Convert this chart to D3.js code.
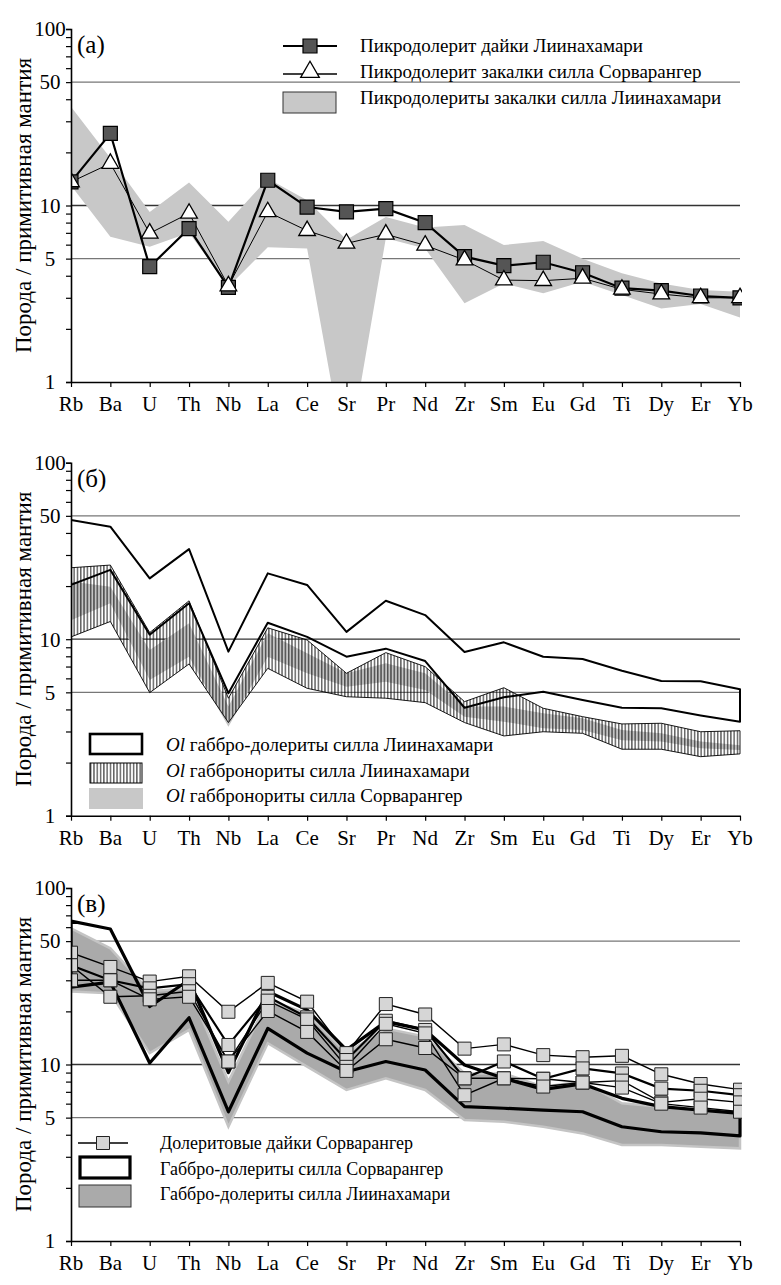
<!DOCTYPE html>
<html><head><meta charset="utf-8">
<script src="https://cdn.jsdelivr.net/npm/d3@7"></script>
<style>body{margin:0;background:#fff}svg{display:block}svg text{font-family:"Liberation Serif",serif !important}</style>
</head><body>
<div id="wrap" style="position:relative;width:781px;height:1285px"></div>
<script>
const elements = ["Rb","Ba","U","Th","Nb","La","Ce","Sr","Pr","Nd","Zr","Sm","Eu","Gd","Ti","Dy","Er","Yb"];
const yMajor = [1,5,10,50,100];
const yMinor = [2,3,4,6,7,8,9,20,30,40,60,70,80,90];
const yTitle = "Порода / примитивная мантия";

// Panel (а)
const dykeLiin  = [13.6,25.6,4.5,7.4,3.44,13.9,9.8,9.2,9.6,8.0,5.13,4.56,4.77,4.16,3.40,3.29,3.07,3.0];
const chillSorv = [13.6,17.3,6.96,9.03,3.5,9.2,7.2,6.1,6.87,5.95,4.91,3.78,3.75,3.87,3.35,3.15,3.0,3.0];
const chillLiinMax = [36.3,18.6,9.2,13.5,8.1,14.2,10.7,6.4,8.6,7.5,7.75,5.97,6.3,5.0,4.13,3.62,3.32,3.25];
const chillLiinMin = [13.0,6.66,5.84,7.0,3.47,5.8,5.7,0.33,6.52,5.7,2.79,3.62,3.18,3.7,3.11,2.61,2.77,2.32];
const legendA = ["Пикродолерит дайки Лиинахамари","Пикродолерит закалки силла Сорварангер","Пикродолериты закалки силла Лиинахамари"];

// Panel (б)
const gdLiinMax = [47.3,43.4,22.1,32.4,8.5,23.6,20.3,11.0,16.5,13.7,8.46,9.6,7.96,7.72,6.63,5.8,5.78,5.2];
const gdLiinMin = [20.3,24.7,10.6,16.0,4.94,12.4,10.3,7.96,8.84,7.52,4.09,4.69,5.04,4.52,4.09,4.06,3.70,3.41];
const gnLiinMax = [25.4,26.3,10.9,16.5,4.63,11.6,9.9,6.41,8.39,6.99,4.43,5.31,4.06,3.64,3.31,3.34,2.99,3.03];
const gnLiinMin = [10.3,12.6,4.98,7.24,3.37,6.84,5.27,4.72,4.63,4.37,3.37,2.83,2.99,2.93,2.38,2.38,2.16,2.24];
const gnSorvMax = [21.2,19.8,8.69,12.3,4.15,10.8,8.32,6.41,7.3,6.41,4.15,4.15,3.8,3.56,3.06,2.93,2.63,2.51];
const gnSorvMin = [12.8,16.0,5.87,7.96,3.19,7.96,6.41,5.38,5.74,5.15,3.64,3.41,3.13,3.06,2.68,2.63,2.41,2.36];
const legendB = [" габбро-долериты силла Лиинахамари"," габбронориты силла Лиинахамари"," габбронориты силла Сорварангер"];

// Panel (в)
const gdLiinCMax = [59.1,45.5,26,27,8.0,23.2,19.5,11.6,16.0,14.4,8.9,8.9,7.49,8.0,6.03,5.77,5.52,5.4];
const gdLiinCMin = [25.9,25.3,11.6,15.7,4.44,13.2,9.72,7.17,8.35,7.17,4.85,4.74,4.44,4.07,3.5,3.5,3.42,3.35];
const gdSorvMax = [65.0,58.6,21.3,30.1,9.0,25.9,20.4,12.1,17.5,15.7,9.94,8.35,7.23,7.75,6.43,5.77,5.52,5.29];
const gdSorvMin = [27.4,29.3,10.2,18.4,5.4,16.0,11.6,9.1,10.4,9.31,5.77,5.65,5.52,5.4,4.44,4.16,4.1,3.94];
const dykeSorv1 = [43,35.7,29.5,31.6,19.9,29.0,22.7,11.6,22.0,19.2,12.3,13.0,11.3,11.0,11.2,8.8,7.75,7.2];
const dykeSorv2 = [36.5,30.0,27.0,28.5,12.9,24.2,18.5,10.6,17.7,15.7,8.35,10.4,8.3,9.5,8.9,7.3,7.1,6.7];
const dykeSorv3 = [36.5,24.2,24.5,26.0,10.4,23.0,18.0,9.7,17.0,15.0,6.7,8.35,8.3,7.9,8.1,6.1,6.4,6.1];
const dykeSorv4 = [30.0,30.0,23.4,24.2,10.4,20.1,15.3,9.2,13.9,12.4,8.35,8.35,7.5,7.9,7.4,6.0,5.7,5.4];
const legendC = ["Долеритовые дайки Сорварангер","Габбро-долериты силла Сорварангер","Габбро-долериты силла Лиинахамари"];

const FONT = "Liberation Serif";
const wrap = d3.select("#wrap");
const x = d3.scalePoint().domain(elements).range([71,740]);

function txt(sel){ return sel.attr("font-family",FONT).attr("fill","#000"); }

// each panel in its own svg, stacked; panelTop is offset in page coordinates
function makePanel(id, panelTop, panelH, top, bottom, label){
  const svg = wrap.append("svg").attr("width",781).attr("height",panelH)
    .style("position","absolute").style("left","0px").style("top",panelTop+"px")
    .attr("font-family",FONT);
  const root = svg.append("g").attr("transform",`translate(0,${-panelTop})`);
  const defs = svg.append("defs");
  const hatch = defs.append("pattern").attr("id","hatch"+id).attr("patternUnits","userSpaceOnUse")
    .attr("width",3.3).attr("height",10);
  hatch.append("line").attr("x1",1.6).attr("x2",1.6).attr("y1",0).attr("y2",10).attr("stroke","#000").attr("stroke-width",0.9);
  const y = d3.scaleLog().domain([1,100]).range([bottom, top]);
  defs.append("clipPath").attr("id","clip"+id).append("rect")
    .attr("x",71).attr("y",top).attr("width",740-71+2).attr("height",bottom-top);
  root.selectAll(".grid").data([50,10,5]).join("line")
    .attr("x1",71).attr("x2",740).attr("y1",d=>y(d)).attr("y2",d=>y(d))
    .attr("stroke",d=>d===10?"#333":"#777").attr("stroke-width",1.3);
  const plot = root.append("g").attr("clip-path","url(#clip"+id+")");
  const axes = root.append("g");
  const ya = d3.axisLeft(y).tickValues(yMajor.concat(yMinor)).tickSize(5).tickFormat("");
  axes.append("g").attr("transform","translate(71,0)").call(ya)
    .call(s=>{s.attr("font-family",FONT);
              s.select(".domain").attr("stroke","#000").attr("stroke-width",1.6);
              s.selectAll(".tick line").attr("stroke","#000").attr("stroke-width",1.2);});
  txt(axes.selectAll(".ylab").data(yMajor).join("text")
    .attr("x",50).attr("y",d=>y(d)).attr("dy","0.35em").attr("text-anchor","middle")
    .attr("font-size",21).text(d=>d));
  const xa = d3.axisBottom(x).tickSize(5).tickSizeOuter(0).tickFormat("");
  axes.append("g").attr("transform",`translate(0,${bottom})`).call(xa)
    .call(s=>{s.attr("font-family",FONT);
              s.select(".domain").attr("stroke","#000").attr("stroke-width",1.6);
              s.selectAll(".tick line").attr("stroke","#000").attr("stroke-width",1.2);});
  txt(axes.selectAll(".xlab").data(elements).join("text")
    .attr("x",d=>x(d)).attr("y",bottom+29).attr("text-anchor","middle")
    .attr("font-size",21).text(d=>d));
  txt(axes.append("text").attr("transform",`translate(31,${(top+bottom)/2}) rotate(-90)`)
    .attr("text-anchor","middle").attr("font-size",23).text(yTitle));
  txt(axes.append("text").attr("x",77).attr("y",top+24).attr("font-size",25).text(label));
  return {y, plot, root, hatchId:"hatch"+id};
}

function band(y, hi, lo){
  return d3.area().x((d,i)=>x(elements[i])).y0((d,i)=>y(lo[i])).y1((d,i)=>y(hi[i]))(hi);
}
function closed(y, hi, lo){
  const pts = hi.map((v,i)=>[x(elements[i]),y(v)]).concat(lo.map((v,i)=>[x(elements[i]),y(v)]).reverse());
  return d3.line()(pts)+"Z";
}
function lineOf(y, vals){ return d3.line().x((d,i)=>x(elements[i])).y(d=>y(d))(vals); }

// ---------- Panel (а)
{
  const {y, plot, root} = makePanel("a", 0, 428, 29, 382, "(а)");
  plot.append("path").attr("d",band(y,chillLiinMax,chillLiinMin)).attr("fill","#c8c8c8");
  plot.append("path").attr("d",lineOf(y,chillSorv)).attr("fill","none").attr("stroke","#000").attr("stroke-width",1);
  plot.append("path").attr("d",lineOf(y,dykeLiin)).attr("fill","none").attr("stroke","#000").attr("stroke-width",2.2);
  plot.selectAll(".sq").data(dykeLiin).join("path")
    .attr("transform",(d,i)=>`translate(${x(elements[i])},${y(d)})`)
    .attr("d",d3.symbol(d3.symbolSquare,196)).attr("fill","#555").attr("stroke","#000").attr("stroke-width",1.2);
  plot.selectAll(".tri").data(chillSorv).join("path")
    .attr("transform",(d,i)=>`translate(${x(elements[i])},${y(d)})`)
    .attr("d",d3.symbol(d3.symbolTriangle,120)).attr("fill","#fff").attr("stroke","#000").attr("stroke-width",1.3);
  const L = root.append("g");
  L.append("line").attr("x1",283).attr("x2",337).attr("y1",46).attr("y2",46).attr("stroke","#000").attr("stroke-width",2);
  L.append("path").attr("transform","translate(310,46)").attr("d",d3.symbol(d3.symbolSquare,196)).attr("fill","#555").attr("stroke","#000").attr("stroke-width",1.2);
  L.append("line").attr("x1",283).attr("x2",337).attr("y1",74).attr("y2",74).attr("stroke","#000").attr("stroke-width",1.5);
  L.append("path").attr("transform","translate(310,72)").attr("d",d3.symbol(d3.symbolTriangle,150)).attr("fill","#fff").attr("stroke","#000").attr("stroke-width",1.3);
  L.append("rect").attr("x",283).attr("y",92).attr("width",53).attr("height",21).attr("fill","#c8c8c8").attr("stroke","#333").attr("stroke-width",1);
  txt(L.selectAll("text").data(legendA).join("text").attr("x",360).attr("y",(d,i)=>52+i*26)
    .attr("font-size",19).text(d=>d));
}

// ---------- Panel (б)
{
  const {y, plot, root, hatchId} = makePanel("b", 428, 428, 462.7, 815.7, "(б)");
  plot.append("path").attr("d",band(y,gnSorvMax,gnSorvMin)).attr("fill","#c4c4c4");
  plot.append("path").attr("d",band(y,gnLiinMax,gnLiinMin)).attr("fill",`url(#${hatchId})`);
  plot.append("path").attr("d",closed(y,gnLiinMax,gnLiinMin)).attr("fill","none").attr("stroke","#000").attr("stroke-width",0.9);
  plot.append("path").attr("d",closed(y,gdLiinMax,gdLiinMin)).attr("fill","none").attr("stroke","#000").attr("stroke-width",2).attr("stroke-linejoin","round");
  const L = root.append("g");
  L.append("rect").attr("x",90).attr("y",734).attr("width",52).attr("height",20).attr("fill","#fff").attr("stroke","#000").attr("stroke-width",2.6);
  L.append("rect").attr("x",90).attr("y",763).attr("width",52).attr("height",20).attr("fill",`url(#${hatchId})`).attr("stroke","#000").attr("stroke-width",1);
  L.append("rect").attr("x",89).attr("y",788).attr("width",54).attr("height",21).attr("fill","#c8c8c8");
  const t = txt(L.selectAll("text").data(legendB).join("text").attr("x",166).attr("y",(d,i)=>751+i*25.5).attr("font-size",19));
  t.append("tspan").attr("font-style","italic").text("Ol");
  t.append("tspan").text(d=>d);
}

// ---------- Panel (в)
{
  const {y, plot, root} = makePanel("c", 856, 429, 888, 1241, "(в)");
  plot.append("path").attr("d",band(y,gdLiinCMax,gdLiinCMin)).attr("fill","#aaaaaa").attr("stroke","#c4c4c4").attr("stroke-width",2.5);
  plot.append("path").attr("d",closed(y,gdSorvMax,gdSorvMin)).attr("fill","none").attr("stroke","#000").attr("stroke-width",3.2).attr("stroke-linejoin","round");
  const dykes = [dykeSorv1,dykeSorv2,dykeSorv3,dykeSorv4];
  dykes.forEach((s,k)=>{
    plot.append("path").attr("d",lineOf(y,s)).attr("fill","none").attr("stroke","#000").attr("stroke-width",k===1?2.2:1.4);
  });
  dykes.forEach(s=>{
    plot.append("g").selectAll("path").data(s).join("path")
      .attr("transform",(d,i)=>`translate(${x(elements[i])},${y(d)})`)
      .attr("d",d3.symbol(d3.symbolSquare,169)).attr("fill","#d6d6d6").attr("stroke","#222").attr("stroke-width",1);
  });
  const L = root.append("g");
  L.append("line").attr("x1",78).attr("x2",128).attr("y1",1143).attr("y2",1143).attr("stroke","#000").attr("stroke-width",1.3);
  L.append("path").attr("transform","translate(103,1143)").attr("d",d3.symbol(d3.symbolSquare,169)).attr("fill","#d6d6d6").attr("stroke","#222").attr("stroke-width",1);
  L.append("rect").attr("x",80).attr("y",1157).attr("width",50).attr("height",21).attr("fill","#fff").attr("stroke","#000").attr("stroke-width",3.2);
  L.append("rect").attr("x",79).attr("y",1185).attr("width",52).attr("height",22).attr("fill","#aaaaaa").attr("stroke","#333").attr("stroke-width",1);
  txt(L.selectAll("text").data(legendC).join("text").attr("x",160).attr("y",(d,i)=>1149+i*25.5)
    .attr("font-size",18).text(d=>d));
}
</script>
</body></html>
